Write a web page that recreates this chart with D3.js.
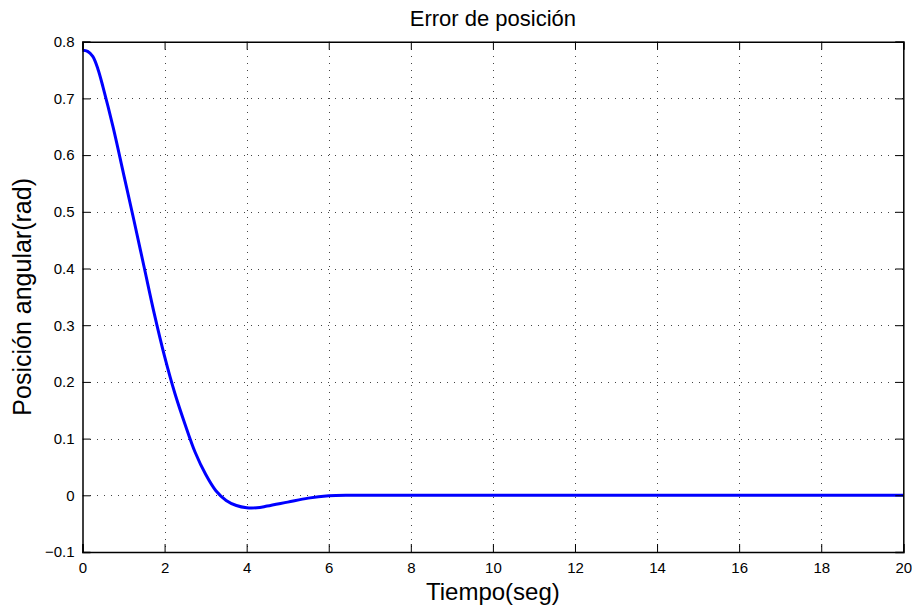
<!DOCTYPE html>
<html>
<head>
<meta charset="utf-8">
<script src="https://cdn.jsdelivr.net/npm/d3@7"></script>
<style>
  html, body { margin: 0; padding: 0; background: #fff; }
  svg { display: block; font-family: "Liberation Sans", Arial, Helvetica, sans-serif; }
</style>
</head>
<body>
<svg id="chart" width="912" height="610"></svg>
<script>
// Position error response (rad) over time (s)
const tiempo = [0, 0.125, 0.25, 0.375, 0.5, 0.75, 1.0, 1.25, 1.5, 1.75, 2.0, 2.25, 2.5, 2.75, 3.0, 3.25,
                3.5, 3.75, 4.0, 4.25, 4.5, 5.0, 5.5, 6.0, 6.5, 7, 8, 10, 12, 14, 16, 18, 20];
const error = [0.785, 0.783, 0.774, 0.752, 0.720, 0.648, 0.567, 0.486, 0.403, 0.320, 0.245, 0.180, 0.125, 0.075, 0.037, 0.008,
               -0.009, -0.018, -0.022, -0.022, -0.019, -0.012, -0.005, -0.001, 0, 0, 0, 0, 0, 0, 0, 0, 0];

const xTicks = [0, 2, 4, 6, 8, 10, 12, 14, 16, 18, 20];
const yTicks = [-0.1, 0, 0.1, 0.2, 0.3, 0.4, 0.5, 0.6, 0.7, 0.8];

const titulo = "Error de posición";
const etiquetaX = "Tiempo(seg)";
const etiquetaY = "Posición angular(rad)";

const svg = d3.select("#chart");
const m = { left: 82.5, right: 903.3, top: 41.7, bottom: 552 };

const x = d3.scaleLinear().domain([0, 20]).range([m.left, m.right]);
const y = d3.scaleLinear().domain([-0.1, 0.8]).range([m.bottom, m.top]);

const fmtY = d => d < 0 ? "\u2212" + Math.abs(d).toString() : (d === 0 ? "0" : d.toString());

// dotted grid
const grid = svg.append("g").attr("stroke", "#444").attr("stroke-width", 1)
  .attr("stroke-dasharray", "1,6").attr("shape-rendering", "crispEdges");
grid.selectAll("line.gx").data(xTicks.slice(1, -1)).join("line")
  .attr("x1", d => Math.round(x(d)) + 0.5).attr("x2", d => Math.round(x(d)) + 0.5)
  .attr("y1", m.top).attr("y2", m.bottom);
grid.selectAll("line.gy").data(yTicks.slice(1, -1)).join("line")
  .attr("class", "gy")
  .attr("y1", d => Math.round(y(d)) + 0.5).attr("y2", d => Math.round(y(d)) + 0.5)
  .attr("x1", m.left).attr("x2", m.right);

// response curve
const line = d3.line().x((d, i) => x(tiempo[i])).y(d => y(d)).curve(d3.curveCatmullRom.alpha(0.5));
svg.append("path").datum(error)
  .attr("d", line).attr("fill", "none").attr("stroke", "#0000ff")
  .attr("stroke-width", 3).attr("stroke-linejoin", "round");

// axes with inward ticks on all four sides
const tickLen = 8;
const axB = d3.axisBottom(x).tickValues(xTicks).tickSize(-tickLen).tickPadding(10).tickFormat(d3.format("d"));
const axT = d3.axisTop(x).tickValues(xTicks).tickSize(-tickLen).tickFormat("");
const axL = d3.axisLeft(y).tickValues(yTicks).tickSize(-tickLen).tickPadding(8).tickFormat(fmtY);
const axR = d3.axisRight(y).tickValues(yTicks).tickSize(-tickLen).tickFormat("");

function style(g) {
  g.selectAll("path.domain").attr("stroke", "#000").attr("stroke-width", 1.5);
  g.selectAll(".tick line").attr("stroke", "#000").attr("stroke-width", 1);
  g.selectAll(".tick text").attr("fill", "#000").attr("font-size", 15)
    .attr("font-family", "'Liberation Sans', Arial, sans-serif");
}
svg.append("g").attr("transform", `translate(0,${m.bottom})`).call(axB).call(style);
svg.append("g").attr("transform", `translate(0,${m.top})`).call(axT).call(style);
svg.append("g").attr("transform", `translate(${m.left},0)`).call(axL).call(style);
svg.append("g").attr("transform", `translate(${m.right},0)`).call(axR).call(style);

// titles
const cx = (m.left + m.right) / 2;
svg.append("text").attr("x", cx).attr("y", 26).attr("text-anchor", "middle")
  .attr("font-size", 22).text(titulo);
svg.append("text").attr("x", cx).attr("y", 600).attr("text-anchor", "middle")
  .attr("font-size", 24).text(etiquetaX);
svg.append("text").attr("transform", `translate(31,${(m.top + m.bottom) / 2}) rotate(-90)`)
  .attr("text-anchor", "middle").attr("font-size", 25).text(etiquetaY);
</script>
</body>
</html>
